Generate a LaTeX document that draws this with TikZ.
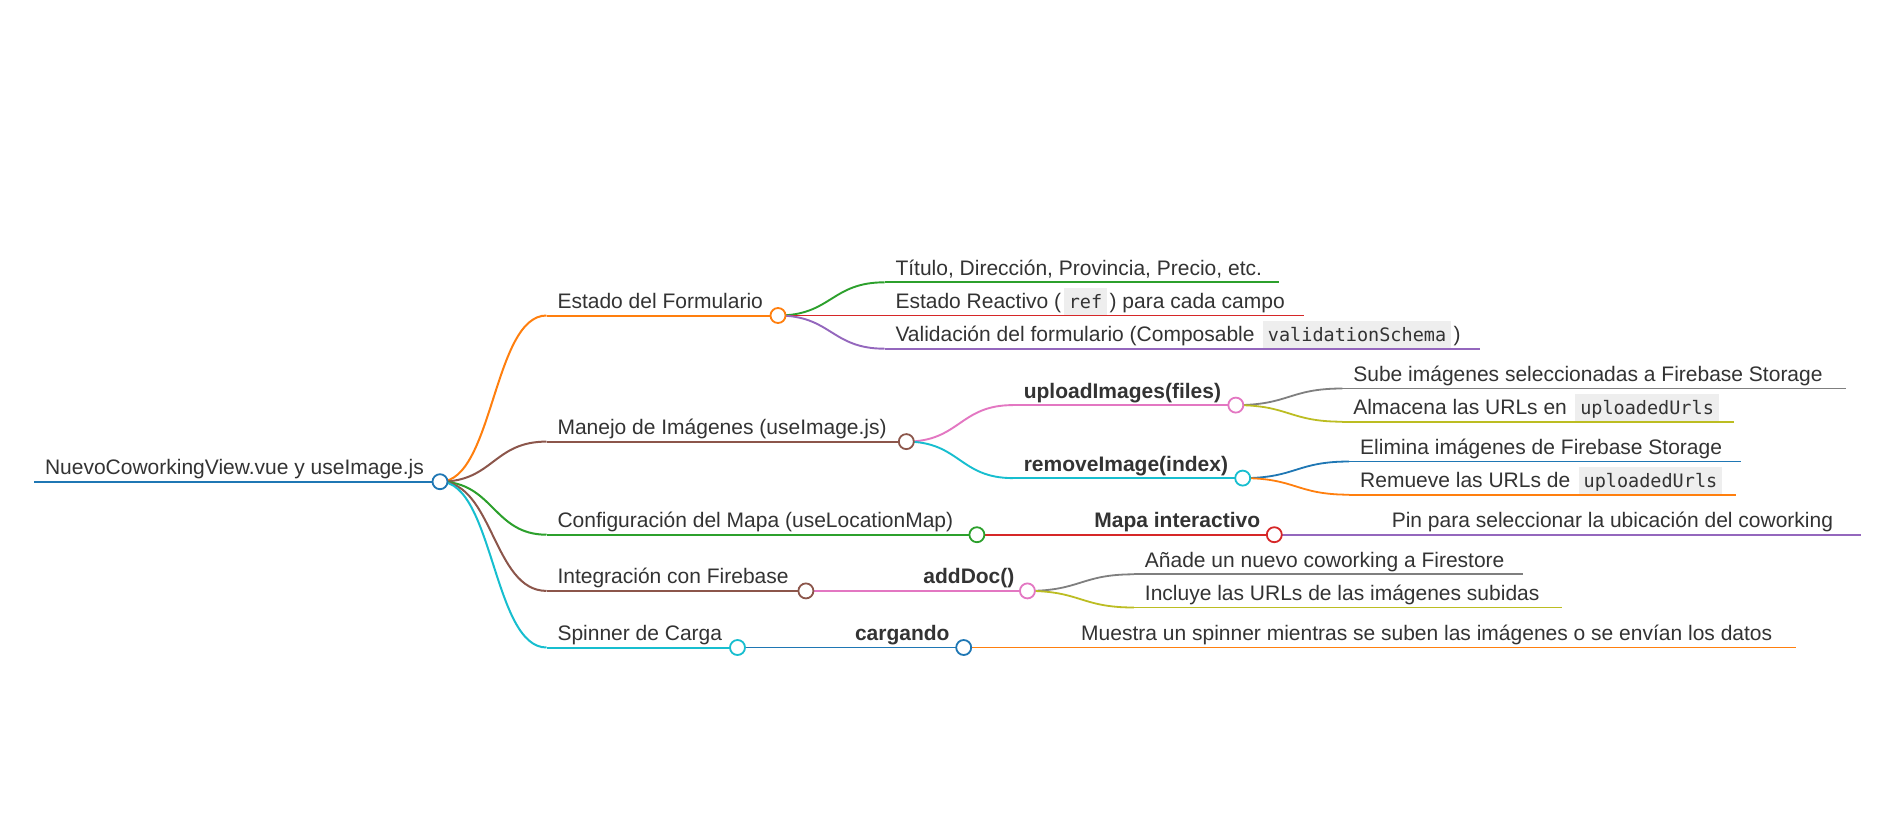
\documentclass[tikz,border=0pt]{standalone}
\usepackage{fontspec}
\setmainfont{Liberation Sans}
\newfontfamily\codefont{DejaVu Sans Mono}
\usetikzlibrary{calc}
\definecolor{mmblue}{HTML}{1F77B4}
\definecolor{mmorange}{HTML}{FF7F0E}
\definecolor{mmgreen}{HTML}{2CA02C}
\definecolor{mmred}{HTML}{D62728}
\definecolor{mmpurple}{HTML}{9467BD}
\definecolor{mmbrown}{HTML}{8C564B}
\definecolor{mmpink}{HTML}{E377C2}
\definecolor{mmgray}{HTML}{7F7F7F}
\definecolor{mmolive}{HTML}{BCBD22}
\definecolor{mmcyan}{HTML}{17BECF}
\definecolor{txt}{HTML}{333333}
\definecolor{codebg}{HTML}{EEEEEE}
\newcommand{\cd}[1]{\hspace{2.5pt}{\setlength{\fboxsep}{0pt}\colorbox{codebg}{\hspace{5pt}\rule[-7pt]{0pt}{28pt}{\codefont\fontsize{18.5}{20}\selectfont #1}\hspace{5pt}}}\hspace{2.5pt}}
\newcommand{\mmpos}[4]{\coordinate (#1-s) at (#2,#4); \coordinate (#1-e) at (#3,#4);}
\newcommand{\mmlink}[4]{\draw[#1, line width=#2] let \p1=(#3-e), \p2=(#4-s) in (\p1) .. controls ({(\x1+\x2)/2},\y1) and ({(\x1+\x2)/2},\y2) .. (\p2);}
\newcommand{\mmtext}[2]{\node[lbl] (#1-t) at (#1-s) {#2};}
\newcommand{\mmline}[3]{\draw[#2, line width=#3] (#1-s) -- (#1-e);}
\newcommand{\mmdot}[2]{\node[mmdot=#2] (#1) at (#1-e) {};}
\begin{document}
\begin{tikzpicture}[x=1pt,y=-1pt,
  lbl/.style={anchor=base west, xshift=11pt, yshift=7pt, inner sep=0pt, outer sep=0pt, text=txt, font=\fontsize{21}{25}\selectfont},
  mmdot/.style={circle, draw=#1, fill=white, line width=1.8pt, minimum size=15pt, inner sep=0pt}]
\fill[white] (0,0) rectangle (1897,839);
\useasboundingbox (0,0) rectangle (1897,839);
% positions
\mmpos{r}{34}{440}{481.7}
\mmpos{a}{546.5}{778}{315.5}
\mmpos{b}{546.5}{906.3}{441.6}
\mmpos{c}{546.5}{976.9}{534.7}
\mmpos{d}{546.5}{805.9}{590.9}
\mmpos{e}{546.5}{737.5}{647.5}
\mmpos{a1}{884.5}{1279}{282.3}
\mmpos{a2}{884.5}{1303.6}{315.5}
\mmpos{a3}{884.5}{1479.6}{348.7}
\mmpos{b1}{1012.8}{1235.8}{405.1}
\mmpos{b2}{1012.8}{1242.7}{478.1}
\mmpos{c1}{1083.4}{1274.3}{534.7}
\mmpos{d1}{912.4}{1027.4}{590.9}
\mmpos{e1}{844}{963.7}{647.5}
\mmpos{b11}{1342.3}{1845.5}{388.5}
\mmpos{b12}{1342.3}{1734}{421.7}
\mmpos{b21}{1349.2}{1740.8}{461.5}
\mmpos{b22}{1349.2}{1736}{494.7}
\mmpos{c11}{1380.8}{1861}{534.7}
\mmpos{d11}{1133.9}{1523.4}{574.3}
\mmpos{d12}{1133.9}{1562.4}{607.5}
\mmpos{e11}{1070.2}{1796.3}{647.5}
% links
\mmlink{mmorange}{2pt}{r}{a}
\mmlink{mmbrown}{2pt}{r}{b}
\mmlink{mmgreen}{2pt}{r}{c}
\mmlink{mmbrown}{2pt}{r}{d}
\mmlink{mmcyan}{2pt}{r}{e}
\mmlink{mmgreen}{1.9pt}{a}{a1}
\mmlink{mmred}{1.9pt}{a}{a2}
\mmlink{mmpurple}{1.9pt}{a}{a3}
\mmlink{mmpink}{1.9pt}{b}{b1}
\mmlink{mmcyan}{1.9pt}{b}{b2}
\mmlink{mmred}{1.9pt}{c}{c1}
\mmlink{mmpink}{1.9pt}{d}{d1}
\mmlink{mmblue}{1.9pt}{e}{e1}
\mmlink{mmgray}{1.8pt}{b1}{b11}
\mmlink{mmolive}{1.8pt}{b1}{b12}
\mmlink{mmblue}{1.8pt}{b2}{b21}
\mmlink{mmorange}{1.8pt}{b2}{b22}
\mmlink{mmpurple}{1.8pt}{c1}{c11}
\mmlink{mmgray}{1.8pt}{d1}{d11}
\mmlink{mmolive}{1.8pt}{d1}{d12}
\mmlink{mmorange}{1.8pt}{e1}{e11}
% texts
\mmtext{r}{NuevoCoworkingView.vue y useImage.js}
\mmtext{a}{Estado del Formulario}
\mmtext{b}{Manejo de Imágenes (useImage.js)}
\mmtext{c}{Configuración del Mapa (useLocationMap)}
\mmtext{d}{Integración con Firebase}
\mmtext{e}{Spinner de Carga}
\mmtext{a1}{Título, Dirección, Provincia, Precio, etc.}
\mmtext{a2}{Estado Reactivo (\cd{ref}) para cada campo}
\mmtext{a3}{Validación del formulario (Composable \cd{validationSchema})}
\mmtext{b1}{\textbf{uploadImages(files)}}
\mmtext{b2}{\textbf{removeImage(index)}}
\mmtext{c1}{\textbf{Mapa interactivo}}
\mmtext{d1}{\textbf{addDoc()}}
\mmtext{e1}{\textbf{cargando}}
\mmtext{b11}{Sube imágenes seleccionadas a Firebase Storage}
\mmtext{b12}{Almacena las URLs en \cd{uploadedUrls}}
\mmtext{b21}{Elimina imágenes de Firebase Storage}
\mmtext{b22}{Remueve las URLs de \cd{uploadedUrls}}
\mmtext{c11}{Pin para seleccionar la ubicación del coworking}
\mmtext{d11}{Añade un nuevo coworking a Firestore}
\mmtext{d12}{Incluye las URLs de las imágenes subidas}
\mmtext{e11}{Muestra un spinner mientras se suben las imágenes o se envían los datos}
% underlines
\mmline{r}{mmblue}{2.4pt}
\mmline{a}{mmorange}{2pt}
\mmline{b}{mmbrown}{2pt}
\mmline{c}{mmgreen}{2pt}
\mmline{d}{mmbrown}{2pt}
\mmline{e}{mmcyan}{2pt}
\mmline{a1}{mmgreen}{1.9pt}
\mmline{a2}{mmred}{1.9pt}
\mmline{a3}{mmpurple}{1.9pt}
\mmline{b1}{mmpink}{1.9pt}
\mmline{b2}{mmcyan}{1.9pt}
\mmline{c1}{mmred}{1.9pt}
\mmline{d1}{mmpink}{1.9pt}
\mmline{e1}{mmblue}{1.9pt}
\mmline{b11}{mmgray}{1.8pt}
\mmline{b12}{mmolive}{1.8pt}
\mmline{b21}{mmblue}{1.8pt}
\mmline{b22}{mmorange}{1.8pt}
\mmline{c11}{mmpurple}{1.8pt}
\mmline{d11}{mmgray}{1.8pt}
\mmline{d12}{mmolive}{1.8pt}
\mmline{e11}{mmorange}{1.8pt}
% circles
\mmdot{r}{mmblue}
\mmdot{a}{mmorange}
\mmdot{b}{mmbrown}
\mmdot{c}{mmgreen}
\mmdot{d}{mmbrown}
\mmdot{e}{mmcyan}
\mmdot{b1}{mmpink}
\mmdot{b2}{mmcyan}
\mmdot{c1}{mmred}
\mmdot{d1}{mmpink}
\mmdot{e1}{mmblue}
\end{tikzpicture}
\end{document}
